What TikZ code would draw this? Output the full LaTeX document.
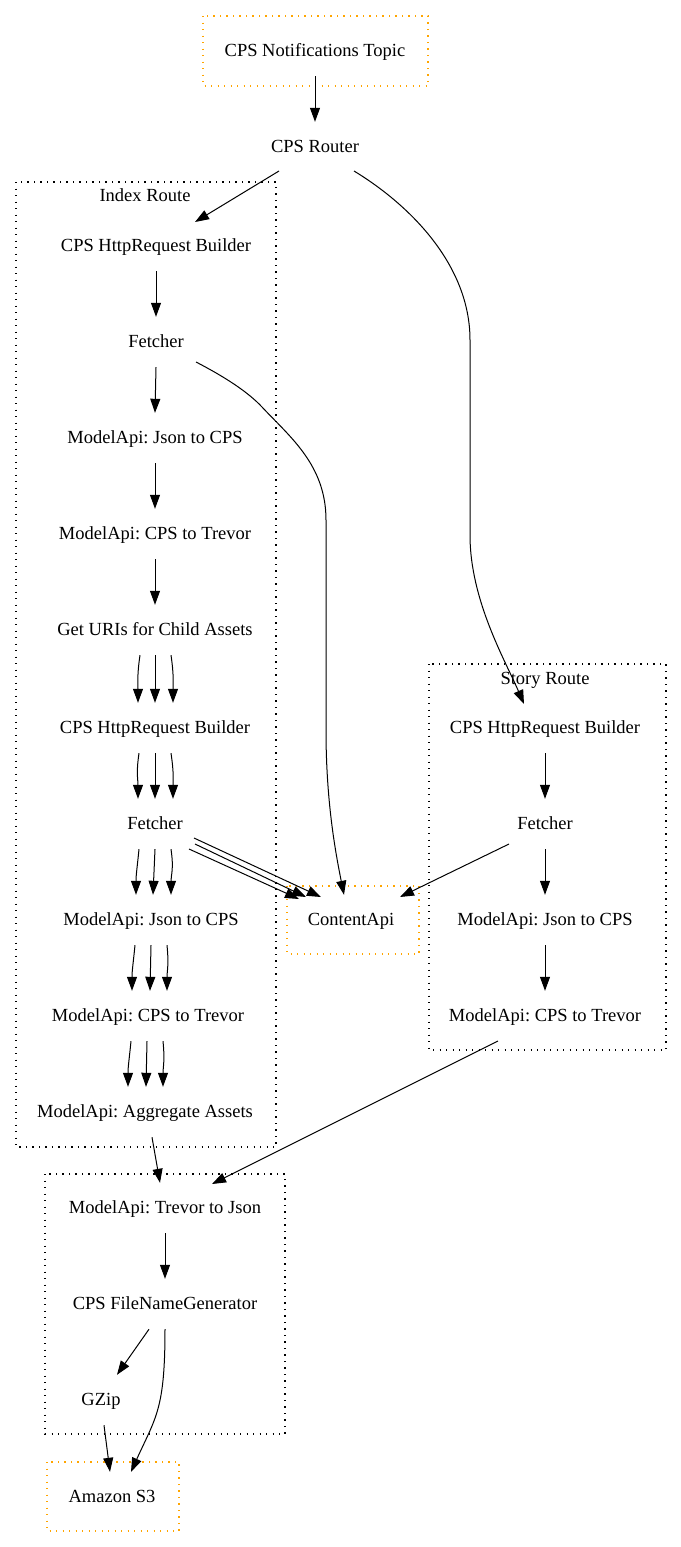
\documentclass[tikz,border=0pt]{standalone}
\usepackage{fontspec}
\setmainfont{Liberation Serif}
\usetikzlibrary{arrows.meta}
\definecolor{gvorange}{HTML}{FFA500}
\frenchspacing
\begin{document}
\begin{tikzpicture}[x=1pt,y=-1pt,
  lbl/.style={inner sep=0pt,minimum height=50pt,text depth=0pt,text height=10pt,font=\fontsize{18.5}{22}\selectfont},
  edge/.style={-{Triangle[length=14pt,width=10pt]},line width=1pt},
  clusterbox/.style={dash pattern=on 1.4pt off 5.1pt,line width=1.15pt},
  extbox/.style={clusterbox,draw=gvorange}]
\useasboundingbox[fill=white] (0,0) rectangle (680,1547);

% cluster frames
\draw[extbox] (203,16) rectangle (428,86);
\draw[clusterbox] (16,182) rectangle (276,1147);
\draw[clusterbox] (429,664) rectangle (666,1050);
\draw[extbox] (287,886) rectangle (419,954);
\draw[clusterbox] (45,1174) rectangle (285,1434);
\draw[extbox] (47,1462) rectangle (179,1531);

% nodes
\node[lbl] (topic) at (315,51) {CPS Notifications Topic};
\node[lbl] (router) at (315,147) {CPS Router};
\node[lbl] (ilabel) at (145,196) {Index Route};
\node[lbl] (ihrb) at (156,246) {CPS HttpRequest Builder};
\node[lbl] (ifetch) at (156,342) {Fetcher};
\node[lbl] (ij2c) at (155,438) {ModelApi: Json to CPS};
\node[lbl] (ic2t) at (155,534) {ModelApi: CPS to Trevor};
\node[lbl] (uris) at (155,630) {Get URIs for Child Assets};
\node[lbl] (ihrb2) at (155,728) {CPS HttpRequest Builder};
\node[lbl] (ifetch2) at (155,824) {Fetcher};
\node[lbl] (ij2c2) at (151,920) {ModelApi: Json to CPS};
\node[lbl] (ic2t2) at (148,1016) {ModelApi: CPS to Trevor};
\node[lbl] (agg) at (145,1112) {ModelApi: Aggregate Assets};
\node[lbl] (capi) at (351,920) {ContentApi};
\node[lbl] (slabel) at (545,679) {Story Route};
\node[lbl] (shrb) at (545,728) {CPS HttpRequest Builder};
\node[lbl] (sfetch) at (545,824) {Fetcher};
\node[lbl] (sj2c) at (545,920) {ModelApi: Json to CPS};
\node[lbl] (sc2t) at (545,1016) {ModelApi: CPS to Trevor};
\node[lbl] (tj) at (165,1208) {ModelApi: Trevor to Json};
\node[lbl] (fng) at (165,1304) {CPS FileNameGenerator};
\node[lbl] (gzip) at (101,1400) {GZip};
\node[lbl] (s3) at (112,1497) {Amazon S3};

% edges
\draw[edge] (topic.south) -- (router.north);
\draw[edge] ([shift={(-36,24)}]router.center) -- ([shift={(39,-24)}]ihrb.center);
\draw[edge] ([shift={(39,24)}]router.center) .. controls (410,205) and (470,265) .. (470,340)
  -- (470,535) .. controls (470,600) and (505,660) .. ([shift={(-21,-24)}]shrb.center);

\draw[edge] (ihrb.south) -- (ifetch.north);
\draw[edge] (ifetch.south) -- (ij2c.north);
\draw[edge] ([shift={(40,20)}]ifetch.center) .. controls (225,377) and (248,392) .. (262,407)
  .. controls (290,437) and (326,465) .. (326,520) -- (326,730)
  .. controls (326,800) and (335,850) .. ([xshift=-7pt]capi.north);
\draw[edge] (ij2c.south) -- (ic2t.north);
\draw[edge] (ic2t.south) -- (uris.north);

\draw[edge] ([xshift=-15pt]uris.south) .. controls +(-3,20) and +(0,-20) .. ([xshift=-17pt]ihrb2.north);
\draw[edge] (uris.south) -- (ihrb2.north);
\draw[edge] ([xshift=16pt]uris.south) .. controls +(3,20) and +(0,-20) .. ([xshift=18pt]ihrb2.north);

\draw[edge] ([xshift=-16pt]ihrb2.south) .. controls +(-3,20) and +(0,-20) .. ([xshift=-17pt]ifetch2.north);
\draw[edge] (ihrb2.south) -- (ifetch2.north);
\draw[edge] ([xshift=16pt]ihrb2.south) .. controls +(3,20) and +(0,-20) .. ([xshift=18pt]ifetch2.north);

\draw[edge] ([xshift=-16pt]ifetch2.south) .. controls +(-2,20) and +(0,-20) .. ([xshift=-15pt]ij2c2.north);
\draw[edge] (ifetch2.south) -- ([xshift=2pt]ij2c2.north);
\draw[edge] ([xshift=16pt]ifetch2.south) .. controls +(3,20) and +(0,-20) .. ([xshift=20pt]ij2c2.north);

\draw[edge] ([shift={(39,14)}]ifetch2.center) -- ([shift={(-30,-23)}]capi.center);
\draw[edge] ([shift={(40,20)}]ifetch2.center) -- ([shift={(-45,-23)}]capi.center);
\draw[edge] ([shift={(34,25)}]ifetch2.center) -- ([shift={(-52,-21)}]capi.center);

\draw[edge] ([xshift=-16pt]ij2c2.south) .. controls +(-2,20) and +(0,-20) .. ([xshift=-16pt]ic2t2.north);
\draw[edge] (ij2c2.south) -- ([xshift=2pt]ic2t2.north);
\draw[edge] ([xshift=16pt]ij2c2.south) .. controls +(2,20) and +(0,-20) .. ([xshift=19pt]ic2t2.north);

\draw[edge] ([xshift=-17pt]ic2t2.south) .. controls +(-2,20) and +(0,-20) .. ([xshift=-17pt]agg.north);
\draw[edge] ([xshift=-1pt]ic2t2.south) -- ([xshift=1pt]agg.north);
\draw[edge] ([xshift=15pt]ic2t2.south) .. controls +(2,20) and +(0,-20) .. ([xshift=18pt]agg.north);

\draw[edge] (shrb.south) -- (sfetch.north);
\draw[edge] (sfetch.south) -- (sj2c.north);
\draw[edge] (sj2c.south) -- (sc2t.north);
\draw[edge] ([shift={(-36,20)}]sfetch.center) -- ([shift={(49,-23)}]capi.center);

\draw[edge] ([shift={(-47,25)}]sc2t.center) -- ([shift={(47,-24)}]tj.center);
\draw[edge] ([xshift=7pt]agg.south) -- ([xshift=-5pt]tj.north);

\draw[edge] (tj.south) -- (fng.north);
\draw[edge] ([xshift=-16pt]fng.south) -- ([xshift=16pt]gzip.north);
\draw[edge] (fng.south) .. controls +(0,80) and +(25,-55) .. ([xshift=19pt]s3.north);
\draw[edge] ([xshift=3pt]gzip.south) -- ([xshift=-2pt]s3.north);
\end{tikzpicture}
\end{document}
